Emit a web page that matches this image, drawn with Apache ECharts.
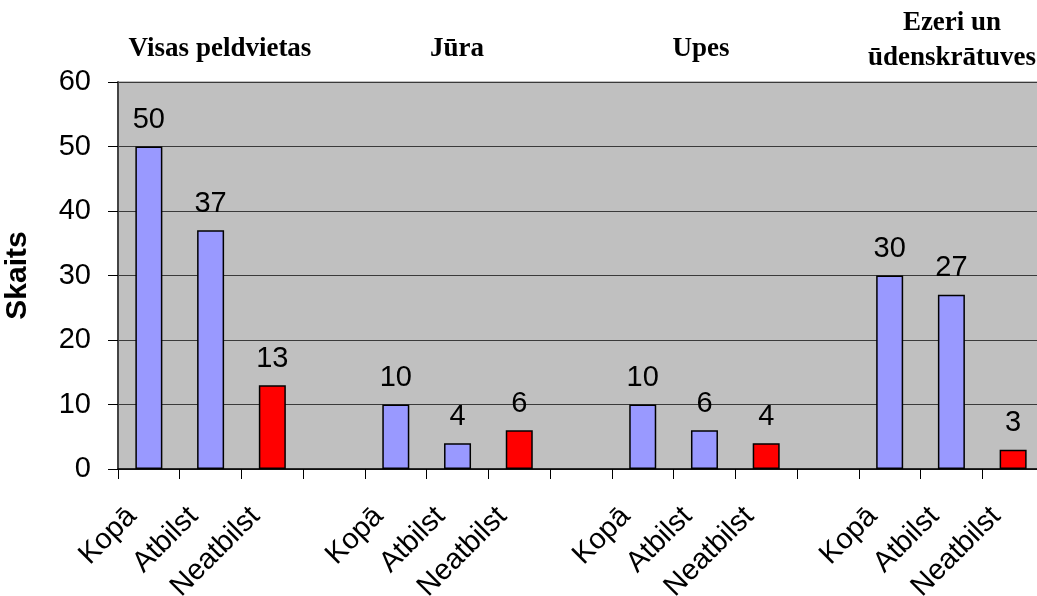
<!DOCTYPE html>
<html>
<head>
<meta charset="utf-8">
<script src="https://cdn.jsdelivr.net/npm/echarts@6/dist/echarts.min.js"></script>
<style>html,body{margin:0;padding:0;background:#fff;}#c{width:1037px;height:596px;}</style>
</head>
<body>
<div id="c"></div>
<script>
const categories = ['Kopā','Atbilst','Neatbilst','','Kopā','Atbilst','Neatbilst','','Kopā','Atbilst','Neatbilst','','Kopā','Atbilst','Neatbilst'];
const values = [50,37,13,null,10,4,6,null,10,6,4,null,30,27,3];
const groupTitles = ['Visas peldvietas','Jūra','Upes','Ezeri un\nūdenskrātuves'];
const yTicks = [0,10,20,30,40,50,60];
const yName = 'Skaits';

const chart = echarts.init(document.getElementById('c'));
const data = values.map((v, i) => ({
  value: v,
  itemStyle: { color: categories[i] === 'Neatbilst' ? '#FF0000' : '#9999FF' }
}));
const titlePos = [[215,42],[452,42],[696,42],[947,16]];
chart.setOption({
  animation: false,
  title: groupTitles.map((t, i) => ({
    text: t,
    left: titlePos[i][0],
    top: titlePos[i][1] - 15,
    textAlign: 'center',
    textStyle: { fontFamily: 'Liberation Serif', fontWeight: 'bold', fontSize: 27, color: '#000', lineHeight: 35 }
  })),
  grid: { left: 118, right: -7, top: 82, bottom: 127, outerBoundsMode: 'none', containLabel: false, show: true, backgroundColor: '#C0C0C0', borderColor: '#808080', borderWidth: 1 },
  xAxis: {
    type: 'category',
    data: categories,
    boundaryGap: true,
    axisLine: { lineStyle: { color: '#000', width: 1.5 } },
    axisTick: { show: true, length: 10, lineStyle: { color: '#000' } },
    axisLabel: { interval: 0, rotate: 45, margin: 26, padding: [0, 24, 0, 0], fontFamily: 'Liberation Sans', fontSize: 29, color: '#000' }
  },
  yAxis: {
    type: 'value',
    min: yTicks[0], max: yTicks[yTicks.length - 1], interval: 10,
    name: yName,
    nameLocation: 'middle',
    nameGap: 85,
    nameRotate: 90,
    nameTextStyle: { fontFamily: 'Liberation Sans', fontWeight: 'bold', fontSize: 30, color: '#000' },
    axisLine: { show: true, lineStyle: { color: '#444', width: 2 } },
    axisTick: { show: true, length: 10, inside: false, lineStyle: { color: '#000' } },
    axisLabel: { margin: 27, fontFamily: 'Liberation Sans', fontSize: 29, color: '#000' },
    splitLine: { show: true, lineStyle: { color: '#3a3a3a', width: 1 } }
  },
  series: [{
    type: 'bar',
    data: data,
    barWidth: 27,
    itemStyle: { borderColor: '#000', borderWidth: 1.5 },
    label: { show: true, position: 'top', distance: 12, fontFamily: 'Liberation Sans', fontSize: 29, color: '#000' }
  }]
});
</script>
</body>
</html>
